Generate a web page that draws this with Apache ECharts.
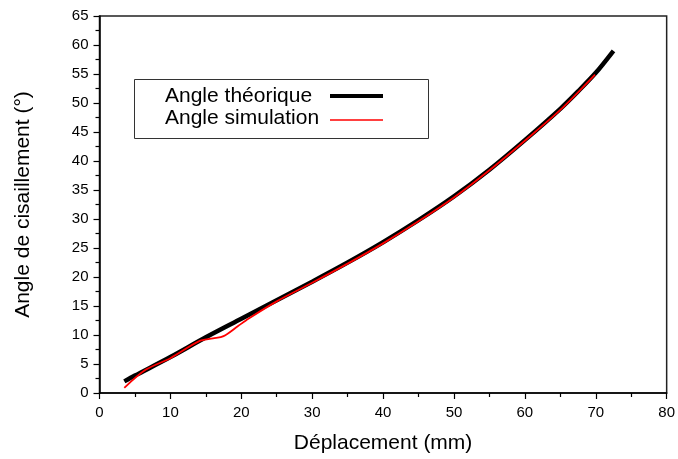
<!DOCTYPE html>
<html>
<head>
<meta charset="utf-8">
<script src="https://cdn.jsdelivr.net/npm/echarts@6/dist/echarts.min.js"></script>
<style>html,body{margin:0;padding:0;background:#fff}#c{width:678px;height:459px}</style>
</head>
<body>
<div id="c"></div>
<script>
var theoX = [3.5, 5, 10, 15, 20, 25, 30, 35, 40, 45, 50, 55, 60, 65, 67.5, 70, 72.5];
var theoY = [2.0, 3.0, 6.2, 9.6, 12.8, 16.0, 19.2, 22.5, 26.0, 29.8, 33.9, 38.5, 43.6, 49.0, 52.0, 55.2, 59.0];
var simX = [3.5, 6.5, 10, 14, 16, 17.5, 19.5, 21, 25, 30, 35, 40, 45, 50, 55, 60, 65, 69.9];
var simY = [0.9, 4.0, 6.0, 8.9, 9.4, 9.8, 11.5, 12.8, 15.8, 19.0, 22.3, 25.8, 29.6, 33.7, 38.4, 43.5, 48.8, 54.9];
var xTicks = [0, 10, 20, 30, 40, 50, 60, 70, 80];
var yTicks = [0, 5, 10, 15, 20, 25, 30, 35, 40, 45, 50, 55, 60, 65];
var seriesNames = ['Angle théorique', 'Angle simulation'];
var colors = ['#000000', '#ff0000'];
var widths = [4.5, 1.8];

function zip(a, b) { return a.map(function (v, i) { return [v, b[i]]; }); }

var chart = echarts.init(document.getElementById('c'));
var font = 'Liberation Sans, Arial, sans-serif';
chart.setOption({
  animation: false,
  backgroundColor: '#fff',
  grid: { left: 99.5, right: 10, top: 16, bottom: 62, show: true, borderColor: '#222', borderWidth: 1.5, backgroundColor: 'transparent' },
  graphic: [
    { type: 'rect', left: 134, top: 79, shape: { width: 294, height: 59 }, style: { fill: '#fff', stroke: '#333', lineWidth: 1 }, z: 10 },
    { type: 'text', left: 165, top: 86, style: { text: seriesNames[0], font: '21px ' + font, fill: '#000' }, z: 11 },
    { type: 'text', left: 165, top: 108, style: { text: seriesNames[1], font: '21px ' + font, fill: '#000' }, z: 11 },
    { type: 'line', shape: { x1: 330, y1: 96, x2: 383, y2: 96 }, style: { stroke: colors[0], lineWidth: 4 }, z: 11 },
    { type: 'line', shape: { x1: 330, y1: 120, x2: 383, y2: 120 }, style: { stroke: colors[1], lineWidth: 1.6 }, z: 11 }
  ],
  xAxis: {
    type: 'value', min: 0, max: 80, interval: 10,
    name: 'Déplacement (mm)', nameLocation: 'middle', nameGap: 40,
    nameTextStyle: { fontFamily: font, fontSize: 21, color: '#000' },
    axisLine: { onZero: false, lineStyle: { color: '#000', width: 1.5 } },
    axisTick: { length: 6, lineStyle: { color: '#000', width: 1.2 } },
    minorTick: { show: true, splitNumber: 2, length: 4, lineStyle: { color: '#000', width: 1.2 } },
    splitLine: { show: false },
    axisLabel: { fontFamily: font, fontSize: 15, color: '#000', margin: 12,
      formatter: function (v) { return xTicks.indexOf(v) >= 0 ? String(v) : ''; } }
  },
  yAxis: {
    type: 'value', min: 0, max: 65, interval: 5,
    name: 'Angle de cisaillement (°)', nameLocation: 'middle', nameGap: 66, nameRotate: 90,
    nameTextStyle: { fontFamily: font, fontSize: 21, color: '#000' },
    axisLine: { onZero: false, lineStyle: { color: '#000', width: 1.5 } },
    axisTick: { length: 6, lineStyle: { color: '#000', width: 1.2 } },
    minorTick: { show: true, splitNumber: 2, length: 4, lineStyle: { color: '#000', width: 1.2 } },
    splitLine: { show: false },
    axisLabel: { fontFamily: font, fontSize: 15, color: '#000', margin: 11,
      formatter: function (v) { return yTicks.indexOf(v) >= 0 ? String(v) : ''; } }
  },
  series: [
    { name: seriesNames[0], type: 'line', data: zip(theoX, theoY), smooth: 0.3, showSymbol: false, symbol: 'none',
      lineStyle: { color: colors[0], width: widths[0], cap: 'butt' }, itemStyle: { color: colors[0] } },
    { name: seriesNames[1], type: 'line', data: zip(simX, simY), smooth: 0.3, showSymbol: false, symbol: 'none',
      lineStyle: { color: colors[1], width: widths[1] }, itemStyle: { color: colors[1] } }
  ]
});
</script>
</body>
</html>
